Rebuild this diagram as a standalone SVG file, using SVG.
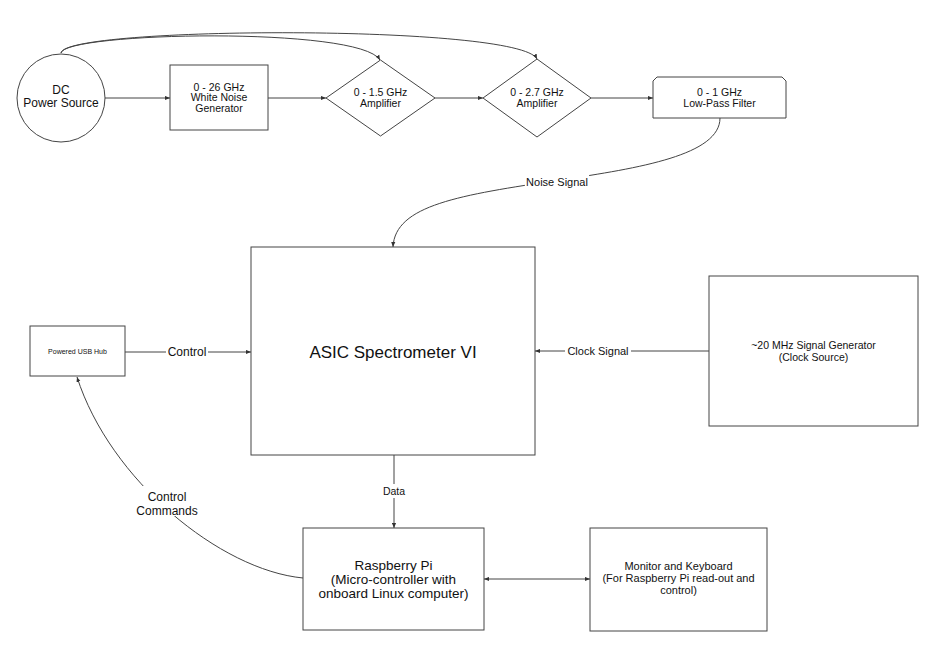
<svg xmlns="http://www.w3.org/2000/svg" width="944" height="660" viewBox="0 0 944 660">
<defs>
<style>
text{font-family:"Liberation Sans",Arial,sans-serif;fill:#111;text-anchor:middle}
.n{fill:#fff;stroke:#444;stroke-width:1}
.c{fill:none;stroke:#444;stroke-width:1}
.bg{fill:#fff;stroke:none}
</style>
<marker id="a" viewBox="0 0 6 6" refX="6" refY="3" markerWidth="5" markerHeight="5" orient="auto-start-reverse" markerUnits="userSpaceOnUse">
<path d="M0,0.5 L6,3 L0,5.5 z" fill="#333"/>
</marker>
</defs>
<rect width="944" height="660" fill="#fff"/>
<g id="connectors">
<path class="c" d="M105,98 H170" marker-end="url(#a)"/>
<path class="c" d="M268,98 H326" marker-end="url(#a)"/>
<path class="c" d="M435,98 H483" marker-end="url(#a)"/>
<path class="c" d="M591,98 H653" marker-end="url(#a)"/>
<path class="c" d="M61,53 C64,32 360,26 380,60" marker-end="url(#a)"/>
<path class="c" d="M61,53 C64,26 520,24 537,59" marker-end="url(#a)"/>
<path class="c" d="M720,118 C720,155 640,168 560,180 C460,195 395,205 393,247" marker-end="url(#a)"/>
<rect class="bg" x="525" y="175" width="64" height="14"/>
<text x="557" y="186" font-size="11">Noise Signal</text>
<path class="c" d="M125,352 H251" marker-end="url(#a)"/>
<rect class="bg" x="166" y="345" width="42" height="14"/>
<text x="187" y="356" font-size="12">Control</text>
<path class="c" d="M709,351 H535" marker-end="url(#a)"/>
<rect class="bg" x="565" y="345" width="66" height="13"/>
<text x="598" y="355" font-size="11">Clock Signal</text>
<path class="c" d="M394,455 V528" marker-end="url(#a)"/>
<rect class="bg" x="380" y="484" width="28" height="14"/>
<text x="394" y="495" font-size="10.5">Data</text>
<path class="c" d="M484,579 H590" marker-start="url(#a)" marker-end="url(#a)"/>
<path class="c" d="M303,578 C220,570 110,480 77,377" marker-end="url(#a)"/>
<rect class="bg" x="134" y="486" width="66" height="30"/>
<text x="167" y="501" font-size="12">Control</text>
<text x="167" y="515" font-size="12">Commands</text>
</g>
<g id="dc">
<circle class="n" cx="61" cy="98" r="44"/>
<text x="61" y="93.5" font-size="12">DC</text>
<text x="61" y="106.5" font-size="12">Power Source</text>
</g>
<g id="noise">
<rect class="n" x="170" y="65" width="98" height="65"/>
<text x="219" y="90.5" font-size="10.5">0 - 26 GHz</text>
<text x="219" y="101" font-size="10.5">White Noise</text>
<text x="219" y="111.5" font-size="10.5">Generator</text>
</g>
<g id="amp1">
<path class="n" d="M380.5,60 L435,98 L380.5,136 L326,98 z"/>
<text x="380.5" y="95.5" font-size="10.5">0 - 1.5 GHz</text>
<text x="380.5" y="106.5" font-size="10.5">Amplifier</text>
</g>
<g id="amp2">
<path class="n" d="M537,59 L591,98 L537,137 L483,98 z"/>
<text x="537" y="95.5" font-size="10.5">0 - 2.7 GHz</text>
<text x="537" y="106.5" font-size="10.5">Amplifier</text>
</g>
<g id="filter">
<path class="n" d="M657,77 H782 L786,81 V118 H653 V81 z"/>
<text x="719.5" y="95.5" font-size="10.5">0 - 1 GHz</text>
<text x="719.5" y="106.5" font-size="10.5">Low-Pass Filter</text>
</g>
<g id="asic">
<rect class="n" x="251" y="247" width="284" height="208"/>
<text x="393" y="358" font-size="17">ASIC Spectrometer VI</text>
</g>
<g id="usb">
<rect class="n" x="30" y="326" width="95" height="50"/>
<text x="77.5" y="354" font-size="7">Powered USB Hub</text>
</g>
<g id="clock">
<rect class="n" x="709" y="276" width="209" height="150"/>
<text x="813.5" y="349" font-size="10.5">~20 MHz Signal Generator</text>
<text x="813.5" y="360.5" font-size="10.5">(Clock Source)</text>
</g>
<g id="rpi">
<rect class="n" x="303" y="528" width="181" height="102"/>
<text x="393.5" y="569.5" font-size="13.5">Raspberry Pi</text>
<text x="393.5" y="583.5" font-size="13.5">(Micro-controller with</text>
<text x="393.5" y="597.5" font-size="13.5">onboard Linux computer)</text>
</g>
<g id="monitor">
<rect class="n" x="590" y="528" width="177" height="103"/>
<text x="678.5" y="570" font-size="11">Monitor and Keyboard</text>
<text x="678.5" y="582" font-size="11">(For Raspberry Pi read-out and</text>
<text x="678.5" y="594" font-size="11">control)</text>
</g>
</svg>
